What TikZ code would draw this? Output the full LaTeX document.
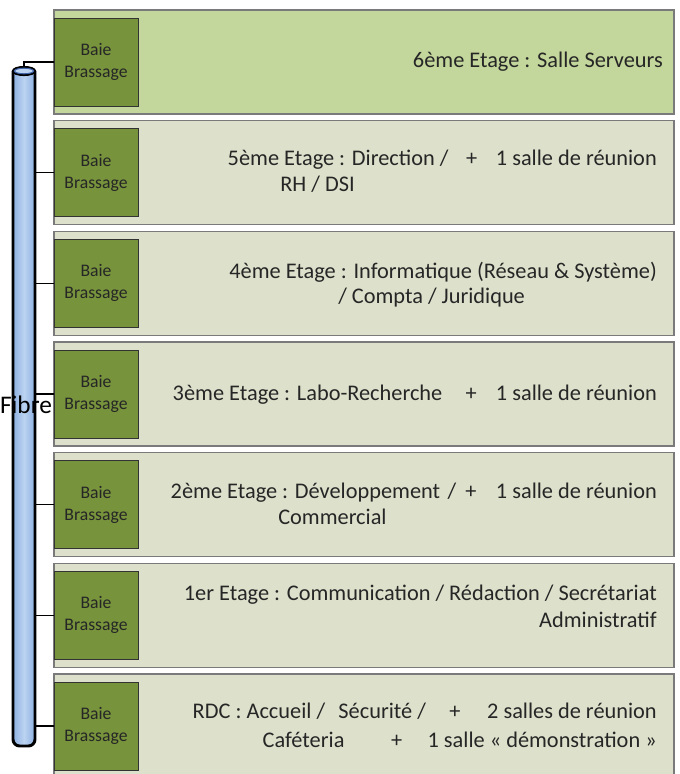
\documentclass[tikz,border=0pt]{standalone}
\usepackage{fontspec}
\setmainfont{Carlito}
\usepackage{tikz}
\usetikzlibrary{calc}

\definecolor{toprow}{HTML}{C3D69B}
\definecolor{floorrow}{HTML}{DDE1CB}
\definecolor{rackgreen}{HTML}{77933C}
\definecolor{rowedge}{HTML}{7A7A7A}
\definecolor{fibreblue}{HTML}{8DB0E2}
\definecolor{fibrelight}{HTML}{BCD3F1}
\definecolor{fibreedge}{HTML}{3F63A8}
\definecolor{ink}{HTML}{262626}

\newcommand{\spread}[3]{\hbox to #1pt{#2\hfill#3}}

\begin{document}
\begin{tikzpicture}[x=0.75pt, y=-0.75pt,
    etage/.style={draw=rowedge, line width=1.1pt, minimum width=465pt, minimum height=78pt, inner sep=0pt},
    rack/.style={draw=black!80, line width=0.6pt, fill=rackgreen, minimum width=63pt, minimum height=66pt, inner sep=0pt, align=center, text=ink, font=\fontsize{13.25pt}{16.5pt}\selectfont},
    etagetext/.style={inner sep=0pt, text=ink, font=\fontsize{16.75pt}{20pt}\selectfont},
    link/.style={draw=black, line width=0.8pt}]
    \useasboundingbox (0,0) rectangle (679,774);

    \foreach \i/\c in {1/toprow, 2/floorrow, 3/floorrow, 4/floorrow, 5/floorrow, 6/floorrow, 7/floorrow} {
        \node[etage, fill=\c] (floor\i) at (364, {62+110.67*(\i-1)}) {};
        \node[rack] (rack\i) at (96, {62+110.67*(\i-1)}) {Baie\\Brassage};
    }

    \shade[left color=fibreblue, right color=fibreblue, middle color=fibrelight] (13,71) [rounded corners=5pt] -- (13,746) -- (35,746) [sharp corners] -- (35,71) -- cycle;
    \draw[black, line width=2.2pt, rounded corners=5pt] (13,71) -- (13,746) -- (35,746) -- (35,71);
    \draw[fill=fibrelight, draw=black, line width=1.6pt] (24,71) ellipse [x radius=11, y radius=4];
    \draw[fibreedge, line width=0.8pt] (24,71) ellipse [x radius=9.5, y radius=2.8];
    \coordinate (fibretop) at (24,67);
    \coordinate (fibreright) at (35,0);

    \draw[link] (rack1.west) -| (fibretop);
    \foreach \i in {2,...,7} {
        \draw[link] (rack\i.west) -- (rack\i.west -| fibreright);
    }

    \node[inner sep=0pt, anchor=base, font=\fontsize{19pt}{22pt}\selectfont] (fibre) at (26,413) {Fibre};

    \node[etagetext, anchor=base east] (e6) at (663,68) {6ème Etage : Salle Serveurs};
    \node[etagetext, anchor=base east] (e5a) at (657,165) {\spread{321.75}{5ème Etage : Direction /}{+\hspace{14pt}1 salle de réunion}};
    \node[etagetext, anchor=base west] (e5b) at (280,191) {RH / DSI};
    \node[etagetext, anchor=base east] (e4a) at (657,278) {4ème Etage : Informatique (Réseau \& Système)};
    \node[etagetext, anchor=base west] (e4b) at (338,303) {/ Compta / Juridique};
    \node[etagetext, anchor=base east] (e3) at (657,400) {\spread{363}{3ème Etage : Labo-Recherche}{+\hspace{14.5pt}1 salle de réunion}};
    \node[etagetext, anchor=base east] (e2a) at (657,498) {\spread{364.5}{2ème Etage : Développement}{/\hspace{7pt}+\hspace{14.5pt}1 salle de réunion}};
    \node[etagetext, anchor=base west] (e2b) at (278,524) {Commercial};
    \node[etagetext, anchor=base east] (e1a) at (657,600) {1er Etage : Communication / Rédaction / Secrétariat};
    \node[etagetext, anchor=base east] (e1b) at (657,627) {Administratif};
    \node[etagetext, anchor=base east] (e0a) at (657,718) {\spread{348}{RDC : Accueil /\hspace{10pt}Sécurité /}{+\hspace{20pt}2 salles de réunion}};
    \node[etagetext, anchor=base east] (e0b) at (657,747) {\spread{295.5}{Caféteria}{+\hspace{19pt}1 salle « démonstration »}};
\end{tikzpicture}
\end{document}
